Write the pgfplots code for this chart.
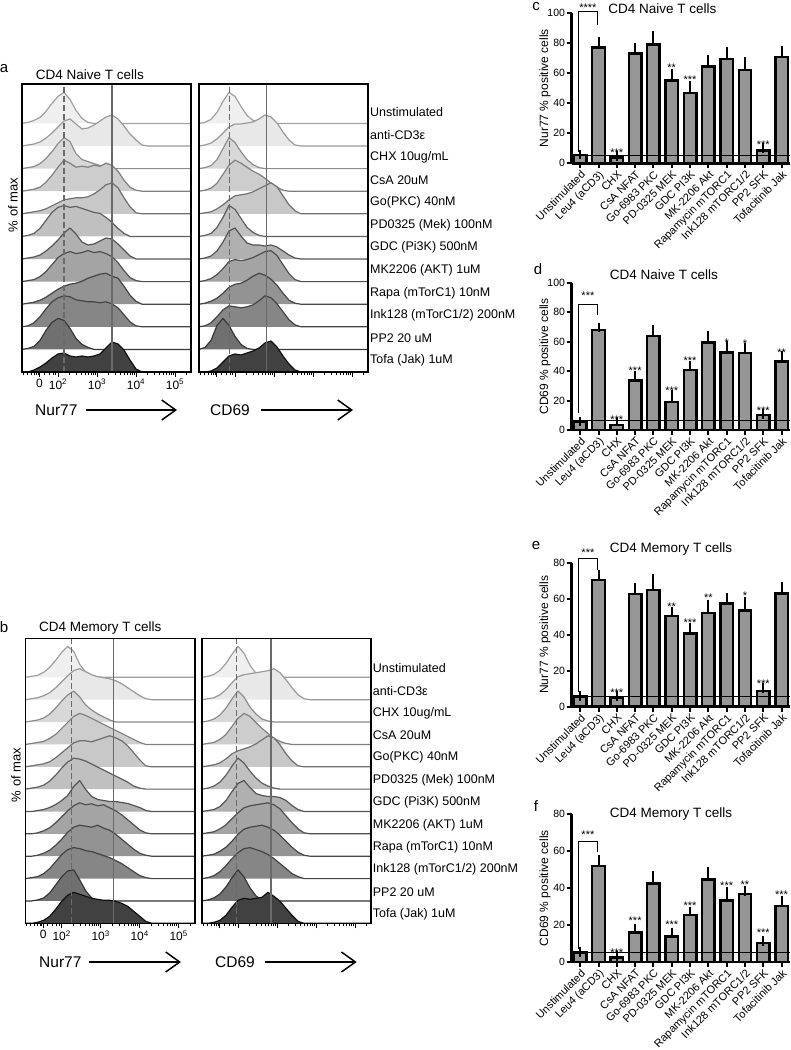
\documentclass[border=0pt]{standalone}
\usepackage{fontspec}
\setmainfont{Liberation Sans}
\usepackage{pgfplots}
\pgfplotsset{compat=1.18}
\usepackage{pgfplotstable}
\usetikzlibrary{arrows.meta}

% histogram shades, top row lightest
\definecolor{hf1}{HTML}{EFEFEF}\definecolor{hl1}{HTML}{A0A0A0}
\definecolor{hf2}{HTML}{E8E8E8}\definecolor{hl2}{HTML}{9A9A9A}
\definecolor{hf3}{HTML}{D8D8D8}\definecolor{hl3}{HTML}{8C8C8C}
\definecolor{hf4}{HTML}{CDCDCD}\definecolor{hl4}{HTML}{808080}
\definecolor{hf5}{HTML}{C8C8C8}\definecolor{hl5}{HTML}{707070}
\definecolor{hf6}{HTML}{C0C0C0}\definecolor{hl6}{HTML}{606060}
\definecolor{hf7}{HTML}{B0B0B0}\definecolor{hl7}{HTML}{555555}
\definecolor{hf8}{HTML}{A4A4A4}\definecolor{hl8}{HTML}{4F4F4F}
\definecolor{hf9}{HTML}{939393}\definecolor{hl9}{HTML}{474747}
\definecolor{hf10}{HTML}{868686}\definecolor{hl10}{HTML}{444444}
\definecolor{hf11}{HTML}{707070}\definecolor{hl11}{HTML}{383838}
\definecolor{hf12}{HTML}{414141}\definecolor{hl12}{HTML}{111111}
\definecolor{gate}{HTML}{6A6A6A}
\definecolor{barfill}{HTML}{969696}

\newcommand\fs[1]{\fontsize{#1}{#1}\selectfont}

\pgfplotsset{
  histax/.style={
    scale only axis, anchor=south west,
    width=169pt, xmin=0, xmax=169, ymin=0,
    axis on top, axis line style={line width=1.6pt},
    ytick=\empty, xtick pos=left, tick align=outside,
    xtick={17.5,36,75,114,153},
    minor xtick={1,5,9,12,14.5,16,22,27,31,33.5,47.7,54.6,59.5,63.3,66.3,69,71.2,73.2,
      86.7,93.6,98.5,102.3,105.3,108,110.2,112.2,125.7,132.6,137.5,141.3,144.3,147,149.2,151.2,164.7},
    major tick length=5pt, minor tick length=3pt,
    every tick/.style={black, line width=1pt},
    typeset ticklabels with strut,
    xticklabel style={font=\fs{12}, inner sep=2pt},
  },
  barax/.style={
    scale only axis, anchor=south west,
    width=218.3pt, xmin=-0.465, xmax=11.46, ymin=0,
    axis x line*=bottom, axis y line*=left,
    axis line style={line width=2.6pt, -},
    xtick={0,...,11},
    xticklabels={Unstimulated,Leu4 (aCD3),CHX,CsA NFAT,Go-6983 PKC,PD-0325 MEK,GDC PI3K,MK-2206 Akt,Rapamycin mTORC1,Ink128 mTORC1/2,PP2 SFK,Tofacitinib Jak},
    xticklabel style={rotate=45, anchor=north east, font=\fs{11}, inner sep=1pt},
    yticklabel style={font=\fs{10.5}, inner sep=1.5pt},
    /pgf/number format/assume math mode=true,
    tick align=outside, major tick length=5pt,
    every tick/.style={black, line width=2pt},
    ylabel style={at={(axis description cs:-0.122,0.5)}, anchor=center, font=\fs{12}},
    clip=false,
  },
}
\tikzset{star/.style={font=\fs{11}, anchor=base, yshift=-6.4pt, inner sep=0pt}}

\newcommand\hrow[3]{\addplot[fill=hf#1, draw=hl#1, line width=1.2pt, line join=round,
  y filter/.expression={y+#2}] coordinates {#3};}
\newcommand\gates[2]{%
  \addplot[gate, line width=1.3pt, dash pattern=on 6pt off 3pt] coordinates {(#1,0) (#1,300)};
  \addplot[gate, line width=1.3pt] coordinates {(#2,0) (#2,300)};}
\newcommand\bars[1]{\addplot[ybar, bar width=12.5pt, fill=barfill, draw=black, line width=2.4pt,
  error bars/.cd, y dir=plus, y explicit,
  error bar style={line width=2pt, black},
  error mark options={mark size=4.8pt, line width=2pt, black}]
  table[x=x, y=y, y error=e] {#1};}

% bar data: mean and upper error, % positive cells
\pgfplotstableread{
x y e
0 5.5 0.4
1 77 4
2 3.8 1
3 73 4
4 79 5.5
5 55 4.5
6 46.8 4.4
7 64.2 4.5
8 69.4 4.4
9 62 5.5
10 8.5 1.5
11 70.5 4.5
}\datc
\pgfplotstableread{
x y e
0 5.5 0.3
1 67.9 1.8
2 3.4 2.5
3 33.5 3.6
4 63.8 4
5 19.2 4.6
6 40.7 3
7 59.3 4.5
8 52.7 4.8
9 52.1 4
10 10.2 0.7
11 46.4 3.8
}\datd
\pgfplotstableread{
x y e
0 5.5 0.3
1 70.7 3
2 5 0.8
3 62.7 3.9
4 65.1 6
5 50.6 2.2
6 40.9 3.1
7 52.4 4.7
8 57.6 3.4
9 53.7 4.9
10 8.5 1.8
11 63.2 3.7
}\date
\pgfplotstableread{
x y e
0 5.2 0.3
1 51.9 3.2
2 2.5 0.8
3 15.9 2.3
4 42.5 4
5 13.7 2.3
6 25.4 1.8
7 44.7 3.8
8 33.2 4.8
9 36.8 1.6
10 10.2 1.3
11 30.3 2.9
}\datf

\begin{document}
\begin{tikzpicture}
\path[use as bounding box] (0,0) rectangle (791pt,-1050pt);

% ---------- a: Nur77, naive ----------
\begin{axis}[histax, at={(22pt,-372pt)}, height=288pt, ymax=288,
  xticklabels={0,10\textsuperscript{2},10\textsuperscript{3},10\textsuperscript{4},10\textsuperscript{5}}]
\hrow{1}{248.6}{(0,0)(6,1)(12,3)(18,6)(24,12)(30,20)(36,27)(42,31)(48,24)(54,13)(60,5)(66,1)(72,0)(169,0)}
\hrow{2}{226}{(0,0)(6,1)(12,2)(18,4)(24,8)(30,13)(36,19)(42,25)(48,27)(54,22)(60,17)(66,18)(72,21)(78,25)(84,29)(90,31)(96,27)(102,20)(108,12)(114,6)(120,1)(126,0)(169,0)}
\hrow{3}{203.4}{(0,0)(6,1)(12,2)(18,5)(24,10)(30,17)(36,25)(42,31)(48,27)(54,15)(60,9)(66,7)(72,5)(78,3)(84,1)(90,0)(169,0)}
\hrow{4}{180.8}{(0,0)(6,1)(12,2)(18,4)(24,9)(30,16)(36,24)(42,31)(48,28)(54,24)(60,25)(66,24)(72,26)(78,25)(84,28)(90,26)(96,20)(102,11)(108,4)(114,1)(120,0)(169,0)}
\hrow{5}{158.2}{(0,0)(6,1)(12,2)(18,3)(24,5)(30,8)(36,11)(42,14)(48,15)(54,16)(60,16)(66,17)(72,20)(78,24)(84,29)(90,31)(96,26)(102,16)(108,7)(114,1)(120,0)(169,0)}
\hrow{6}{135.6}{(0,0)(6,1)(12,3)(18,8)(24,16)(30,24)(36,29)(42,31)(48,29)(54,30)(60,28)(66,26)(72,24)(78,23)(84,19)(90,14)(96,8)(102,3)(108,0)(169,0)}
\hrow{7}{113}{(0,0)(6,1)(12,2)(18,4)(24,8)(30,13)(36,19)(42,26)(48,31)(54,25)(60,17)(66,14)(72,15)(78,18)(84,21)(90,20)(96,15)(102,9)(108,3)(114,0)(169,0)}
\hrow{8}{90.4}{(0,0)(6,1)(12,2)(18,5)(24,10)(30,17)(36,24)(42,28)(48,30)(54,28)(60,29)(66,31)(72,29)(78,30)(84,28)(90,25)(96,19)(102,11)(108,4)(114,1)(120,0)(169,0)}
\hrow{9}{67.8}{(0,0)(6,1)(12,2)(18,4)(24,7)(30,11)(36,15)(42,18)(48,20)(54,21)(60,23)(66,26)(72,28)(78,30)(84,31)(90,28)(96,26)(102,18)(108,9)(114,3)(120,0)(169,0)}
\hrow{10}{45.2}{(0,0)(6,1)(12,4)(18,10)(24,18)(30,25)(36,29)(42,31)(48,30)(54,27)(60,26)(66,25)(72,25)(78,24)(84,25)(90,23)(96,19)(102,12)(108,5)(114,1)(120,0)(169,0)}
\hrow{11}{22.6}{(0,0)(6,1)(12,3)(18,9)(24,19)(30,27)(36,31)(42,29)(48,21)(54,11)(60,5)(66,2)(72,0)(169,0)}
\hrow{12}{0}{(0,0)(6,0)(12,2)(18,5)(24,9)(30,14)(36,18)(42,19)(48,16)(54,15)(60,16)(66,15)(72,16)(78,18)(84,24)(90,30)(96,28)(102,22)(108,12)(114,3)(120,0)(169,0)}
\gates{42}{90}
\end{axis}

% ---------- a: CD69, naive ----------
\begin{axis}[histax, at={(199pt,-372pt)}, height=288pt, ymax=288, xticklabels={}]
\hrow{1}{248.6}{(0,0)(6,1)(12,4)(18,11)(24,22)(30,31)(36,27)(42,17)(48,8)(54,3)(60,1)(66,0)(169,0)}
\hrow{2}{226}{(0,0)(6,1)(12,3)(18,7)(24,13)(30,19)(36,22)(42,22)(48,23)(54,24)(60,27)(66,31)(72,29)(78,23)(84,14)(90,6)(96,1)(102,0)(169,0)}
\hrow{3}{203.4}{(0,0)(6,1)(12,3)(18,9)(24,20)(30,31)(36,26)(42,17)(48,9)(54,4)(60,1)(66,0)(169,0)}
\hrow{4}{180.8}{(0,0)(6,1)(12,3)(18,8)(24,17)(30,26)(36,31)(42,28)(48,24)(54,20)(60,17)(66,13)(72,8)(78,4)(84,1)(90,0)(169,0)}
\hrow{5}{158.2}{(0,0)(6,1)(12,2)(18,5)(24,9)(30,14)(36,18)(42,19)(48,20)(54,22)(60,25)(66,28)(72,31)(78,27)(84,18)(90,9)(96,3)(102,0)(169,0)}
\hrow{6}{135.6}{(0,0)(6,1)(12,3)(18,9)(24,19)(30,31)(36,27)(42,18)(48,9)(54,4)(60,1)(66,0)(169,0)}
\hrow{7}{113}{(0,0)(6,1)(12,3)(18,8)(24,17)(30,28)(36,31)(42,23)(48,16)(54,14)(60,14)(66,13)(72,14)(78,12)(84,8)(90,4)(96,1)(102,0)(169,0)}
\hrow{8}{90.4}{(0,0)(6,1)(12,3)(18,7)(24,13)(30,20)(36,22)(42,21)(48,22)(54,24)(60,27)(66,30)(72,31)(78,26)(84,17)(90,8)(96,2)(102,0)(169,0)}
\hrow{9}{67.8}{(0,0)(6,1)(12,3)(18,6)(24,11)(30,17)(36,20)(42,21)(48,24)(54,28)(60,31)(66,29)(72,25)(78,19)(84,11)(90,4)(96,1)(102,0)(169,0)}
\hrow{10}{45.2}{(0,0)(6,1)(12,4)(18,10)(24,17)(30,21)(36,20)(42,19)(48,20)(54,22)(60,26)(66,31)(72,29)(78,23)(84,15)(90,7)(96,2)(102,0)(169,0)}
\hrow{11}{22.6}{(0,0)(6,2)(12,9)(18,24)(24,31)(30,24)(36,13)(42,5)(48,1)(54,0)(169,0)}
\hrow{12}{0}{(0,0)(6,0)(12,1)(18,4)(24,10)(30,16)(36,18)(42,17)(48,19)(54,21)(60,24)(66,29)(72,31)(78,25)(84,16)(90,8)(96,2)(102,0)(169,0)}
\gates{30.3}{67.7}
\end{axis}

% ---------- b: Nur77, memory ----------
\begin{axis}[histax, at={(25.7pt,-923.3pt)}, height=285pt, ymax=285,
  xticklabels={0,10\textsuperscript{2},10\textsuperscript{3},10\textsuperscript{4},10\textsuperscript{5}}]
\hrow{1}{246}{(0,0)(6,1)(12,2)(18,5)(24,10)(30,17)(36,25)(42,31)(48,26)(54,13)(60,5)(66,1)(72,0)(169,0)}
\hrow{2}{223.6}{(0,0)(6,1)(12,2)(18,4)(24,7)(30,12)(36,18)(42,24)(48,29)(54,31)(60,28)(66,25)(72,23)(78,22)(84,21)(90,19)(96,16)(102,12)(108,8)(114,4)(120,1)(126,0)(169,0)}
\hrow{3}{201.3}{(0,0)(6,1)(12,2)(18,4)(24,8)(30,14)(36,21)(42,27)(48,31)(54,25)(60,17)(66,12)(72,8)(78,5)(84,2)(90,0)(169,0)}
\hrow{4}{178.9}{(0,0)(6,1)(12,2)(18,3)(24,6)(30,10)(36,16)(42,22)(48,28)(54,31)(60,29)(66,26)(72,23)(78,20)(84,17)(90,14)(96,11)(102,8)(108,5)(114,2)(120,0)(169,0)}
\hrow{5}{156.5}{(0,0)(6,1)(12,2)(18,3)(24,5)(30,9)(36,14)(42,19)(48,24)(54,26)(60,26)(66,25)(72,27)(78,29)(84,31)(90,29)(96,26)(102,21)(108,14)(114,7)(120,1)(126,0)(169,0)}
\hrow{6}{134.2}{(0,0)(6,1)(12,2)(18,4)(24,8)(30,14)(36,21)(42,27)(48,31)(54,30)(60,28)(66,25)(72,22)(78,19)(84,16)(90,13)(96,10)(102,7)(108,3)(114,1)(120,0)(169,0)}
\hrow{7}{111.8}{(0,0)(6,0)(12,1)(18,2)(24,4)(30,7)(36,11)(42,16)(48,25)(54,31)(60,22)(66,15)(72,12)(78,11)(84,10)(90,10)(96,9)(102,8)(108,6)(114,4)(120,1)(126,0)(169,0)}
\hrow{8}{89.5}{(0,0)(6,0)(12,1)(18,3)(24,6)(30,11)(36,17)(42,23)(48,28)(54,31)(60,29)(66,30)(72,28)(78,29)(84,26)(90,23)(96,19)(102,14)(108,9)(114,4)(120,1)(126,0)(169,0)}
\hrow{9}{67.1}{(0,0)(6,0)(12,1)(18,3)(24,6)(30,11)(36,17)(42,24)(48,29)(54,31)(60,30)(66,29)(72,31)(78,28)(84,26)(90,22)(96,17)(102,12)(108,7)(114,3)(120,1)(126,0)(169,0)}
\hrow{10}{44.7}{(0,0)(6,1)(12,2)(18,5)(24,10)(30,17)(36,24)(42,29)(48,31)(54,30)(60,28)(66,27)(72,25)(78,23)(84,21)(90,18)(96,15)(102,11)(108,7)(114,3)(120,1)(126,0)(169,0)}
\hrow{11}{22.4}{(0,0)(6,0)(12,1)(18,3)(24,8)(30,16)(36,24)(42,30)(48,31)(54,21)(60,10)(66,3)(72,0)(169,0)}
\hrow{12}{0}{(0,0)(6,0)(12,1)(18,3)(24,7)(30,14)(36,22)(42,28)(48,31)(54,29)(60,27)(66,25)(72,24)(78,23)(84,23)(90,22)(96,20)(102,17)(108,12)(114,7)(120,2)(126,0)(169,0)}
\gates{46}{87.6}
\end{axis}

% ---------- b: CD69, memory ----------
\begin{axis}[histax, at={(202pt,-923.3pt)}, height=285pt, ymax=285, xticklabels={}]
\hrow{1}{246}{(0,0)(6,1)(12,3)(18,7)(24,14)(30,23)(36,31)(42,24)(48,12)(54,4)(60,1)(66,0)(169,0)}
\hrow{2}{223.6}{(0,0)(6,1)(12,2)(18,5)(24,10)(30,17)(36,23)(42,25)(48,26)(54,27)(60,28)(66,29)(72,31)(78,27)(84,20)(90,12)(96,5)(102,1)(108,0)(169,0)}
\hrow{3}{201.3}{(0,0)(6,1)(12,3)(18,7)(24,14)(30,23)(36,31)(42,25)(48,15)(54,8)(60,3)(66,1)(72,0)(169,0)}
\hrow{4}{178.9}{(0,0)(6,1)(12,2)(18,5)(24,10)(30,18)(36,26)(42,31)(48,28)(54,22)(60,16)(66,11)(72,6)(78,3)(84,1)(90,0)(169,0)}
\hrow{5}{156.5}{(0,0)(6,1)(12,2)(18,4)(24,8)(30,13)(36,16)(42,18)(48,20)(54,23)(60,27)(66,31)(72,29)(78,22)(84,13)(90,6)(96,1)(102,0)(169,0)}
\hrow{6}{134.2}{(0,0)(6,1)(12,3)(18,7)(24,14)(30,23)(36,31)(42,26)(48,18)(54,11)(60,6)(66,3)(72,1)(78,0)(169,0)}
\hrow{7}{111.8}{(0,0)(6,1)(12,2)(18,5)(24,11)(30,20)(36,28)(42,31)(48,24)(54,18)(60,16)(66,15)(72,15)(78,14)(84,11)(90,6)(96,2)(102,0)(169,0)}
\hrow{8}{89.5}{(0,0)(6,1)(12,2)(18,5)(24,9)(30,15)(36,21)(42,26)(48,28)(54,29)(60,30)(66,31)(72,29)(78,25)(84,18)(90,11)(96,5)(102,1)(108,0)(169,0)}
\hrow{9}{67.1}{(0,0)(6,1)(12,2)(18,5)(24,9)(30,15)(36,22)(42,27)(48,29)(54,30)(60,31)(66,29)(72,26)(78,21)(84,15)(90,9)(96,4)(102,1)(108,0)(169,0)}
\hrow{10}{44.7}{(0,0)(6,1)(12,3)(18,7)(24,13)(30,20)(36,26)(42,30)(48,31)(54,29)(60,27)(66,24)(72,20)(78,15)(84,10)(90,5)(96,2)(102,0)(169,0)}
\hrow{11}{22.4}{(0,0)(6,1)(12,3)(18,7)(24,14)(30,23)(36,31)(42,24)(48,13)(54,5)(60,1)(66,0)(169,0)}
\hrow{12}{0}{(0,0)(6,0)(12,1)(18,3)(24,8)(30,16)(36,23)(42,25)(48,24)(54,25)(60,26)(66,31)(72,27)(78,22)(84,15)(90,8)(96,2)(102,0)(169,0)}
\gates{34.7}{69}
\end{axis}

% ---------- c ----------
\begin{axis}[barax, at={(571.7pt,-163.3pt)}, height=150.6pt, ymax=100, ytick={0,20,...,100},
  ylabel={Nur77 \% positive cells}]
\bars{\datc}
\addplot[black, line width=0.9pt] coordinates {(-0.465,5.5) (11.46,5.5)};
\addplot[black, line width=1pt] coordinates {(-0.1,7.5) (-0.1,100.7) (0.95,100.7) (0.95,91.8)};
\node[star] at (axis cs:0.42,105.1) {****};
\node[star] at (axis cs:2,8.8) {***};
\node[star] at (axis cs:5,65.3) {**};
\node[star] at (axis cs:6,57.1) {***};
\node[star] at (axis cs:10,14.3) {***};
\end{axis}

% ---------- d ----------
\begin{axis}[barax, at={(571.7pt,-430pt)}, height=147.3pt, ymax=100, ytick={0,20,...,100},
  ylabel={CD69 \% positive cells}]
\bars{\datd}
\addplot[black, line width=0.9pt] coordinates {(-0.465,6.3) (11.46,6.3)};
\addplot[black, line width=1pt] coordinates {(-0.1,11.5) (-0.1,85.3) (0.95,85.3) (0.95,78)};
\node[star] at (axis cs:0.42,92.8) {***};
\node[star] at (axis cs:2,9) {***};
\node[star] at (axis cs:3,41.9) {***};
\node[star] at (axis cs:5,28.3) {***};
\node[star] at (axis cs:6,48.7) {***};
\node[star] at (axis cs:8,61.1) {*};
\node[star] at (axis cs:9,60.4) {*};
\node[star] at (axis cs:10,14.7) {***};
\node[star] at (axis cs:11,54.3) {**};
\end{axis}

% ---------- e ----------
\begin{axis}[barax, at={(571.7pt,-706.5pt)}, height=143.2pt, ymax=80, ytick={0,20,...,80},
  ylabel={Nur77 \% positive cells}]
\bars{\date}
\addplot[black, line width=0.9pt] coordinates {(-0.465,5.5) (11.46,5.5)};
\addplot[black, line width=1pt] coordinates {(-0.1,8) (-0.1,82.8) (0.95,82.8) (0.95,76.3)};
\node[star] at (axis cs:0.42,87.4) {***};
\node[star] at (axis cs:2,9.2) {***};
\node[star] at (axis cs:5,57.1) {**};
\node[star] at (axis cs:6,48.3) {***};
\node[star] at (axis cs:7,62.3) {**};
\node[star] at (axis cs:9,63.2) {*};
\node[star] at (axis cs:10,14.2) {***};
\end{axis}

% ---------- f ----------
\begin{axis}[barax, at={(571.7pt,-962pt)}, height=148pt, ymax=80, ytick={0,20,...,80},
  ylabel={CD69 \% positive cells}]
\bars{\datf}
\addplot[black, line width=0.9pt] coordinates {(-0.465,5.2) (11.46,5.2)};
\addplot[black, line width=1pt] coordinates {(-0.1,7) (-0.1,65.4) (0.95,65.4) (0.95,59.6)};
\node[star] at (axis cs:0.42,70.4) {***};
\node[star] at (axis cs:2,6.5) {***};
\node[star] at (axis cs:3,23.6) {***};
\node[star] at (axis cs:5,21.5) {***};
\node[star] at (axis cs:6,31.7) {***};
\node[star] at (axis cs:8,42.9) {***};
\node[star] at (axis cs:9,43.4) {**};
\node[star] at (axis cs:10,17.3) {***};
\node[star] at (axis cs:11,38) {***};
\end{axis}

% ---------- text, y measured downwards ----------
\begin{scope}[x=1pt, y=-1pt]
\node[font=\fs{15}] at (4,69) {a};
\node[font=\fs{15}] at (4,627) {b};
\node[font=\fs{15}] at (536,7) {c};
\node[font=\fs{15}] at (538,269) {d};
\node[font=\fs{15}] at (536,546) {e};
\node[font=\fs{15}] at (536,806) {f};

\node[font=\fs{13.5}, anchor=west, inner sep=0pt] at (35.7,75) {CD4 Naive T cells};
\node[font=\fs{13.5}, anchor=west, inner sep=0pt] at (39,627.7) {CD4 Memory T cells};
\node[font=\fs{13.5}] at (662.5,9) {CD4 Naive T cells};
\node[font=\fs{13.5}] at (664,275) {CD4 Naive T cells};
\node[font=\fs{13.5}] at (671,549.3) {CD4 Memory T cells};
\node[font=\fs{13.5}] at (671,814) {CD4 Memory T cells};

\node[font=\fs{13}, rotate=90] at (13,205) {\% of max};
\node[font=\fs{13}, rotate=90] at (16,775) {\% of max};

\foreach \t [count=\i from 0] in {{Unstimulated},{anti-CD3ε},{CHX 10ug/mL},{CsA 20uM},{Go(PKC) 40nM},
  {PD0325 (Mek) 100nM},{GDC (Pi3K) 500nM},{MK2206 (AKT) 1uM},{Rapa (mTorC1) 10nM},
  {Ink128 (mTorC1/2) 200nM},{PP2 20 uM},{Tofa (Jak) 1uM}} {
  \node[font=\fs{12.5}, anchor=west, inner sep=0pt] at (370,{112+22.6*\i}) {\t};
  \node[font=\fs{12.5}, anchor=west, inner sep=0pt] at (372.7,{668.3+22.36*\i}) {\t};
}

\node[font=\fs{15.5}, anchor=west, inner sep=0pt] at (35,410) {Nur77};
\node[font=\fs{15.5}, anchor=west, inner sep=0pt] at (210,410) {CD69};
\node[font=\fs{15.5}, anchor=west, inner sep=0pt] at (39,962) {Nur77};
\node[font=\fs{15.5}, anchor=west, inner sep=0pt] at (215,962) {CD69};
\draw[line width=1.5pt, -{Straight Barb[length=14pt, width=20pt]}] (86,410) -- (177,410);
\draw[line width=1.5pt, -{Straight Barb[length=14pt, width=20pt]}] (261,410) -- (353,410);
\draw[line width=1.5pt, -{Straight Barb[length=14pt, width=20pt]}] (89.3,962) -- (181,962);
\draw[line width=1.5pt, -{Straight Barb[length=14pt, width=20pt]}] (265,962) -- (356.7,962);
\end{scope}
\end{tikzpicture}
\end{document}
